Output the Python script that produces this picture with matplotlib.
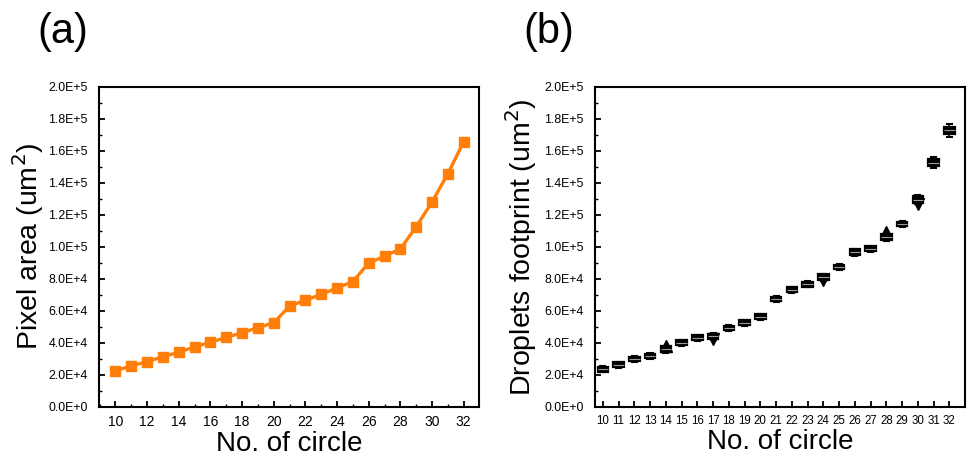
import matplotlib
matplotlib.use("Agg")
import matplotlib.pyplot as plt
from matplotlib.ticker import MultipleLocator

plt.rcParams['font.family'] = ['Liberation Sans', 'DejaVu Sans']

circles = list(range(10, 33))
pixel_area = [22.5e3, 25.7e3, 28.2e3, 31.4e3, 34.1e3, 37.5e3, 40.4e3, 43.4e3, 46.3e3,
              49.5e3, 52.6e3, 62.9e3, 66.7e3, 70.3e3, 74.3e3, 78.3e3, 89.9e3, 94.1e3,
              98.7e3, 112.6e3, 128.0e3, 145.7e3, 165.7e3]

fp_med = [23.6e3, 26.3e3, 29.9e3, 31.8e3, 36.0e3, 40.0e3, 43.2e3, 44.0e3, 49.3e3,
          52.6e3, 56.4e3, 67.4e3, 73.3e3, 76.6e3, 81.0e3, 87.4e3, 96.6e3, 98.9e3,
          106.0e3, 114.3e3, 129.5e3, 152.6e3, 172.8e3]
fp_half = [1.5e3, 1.5e3, 1.5e3, 1.5e3, 1.8e3, 1.5e3, 1.5e3, 1.8e3, 1.5e3,
           1.5e3, 1.5e3, 1.5e3, 1.5e3, 1.5e3, 1.8e3, 1.5e3, 1.8e3, 1.5e3,
           1.8e3, 1.5e3, 2.0e3, 2.2e3, 2.2e3]
fp_whisk = [1.9e3, 1.9e3, 1.9e3, 1.9e3, 2.3e3, 1.9e3, 1.9e3, 2.3e3, 1.9e3,
            1.9e3, 1.9e3, 1.9e3, 1.9e3, 1.9e3, 2.3e3, 1.9e3, 2.3e3, 1.9e3,
            2.3e3, 1.9e3, 2.8e3, 3.5e3, 4.0e3]
up_markers_x = [14, 28]
up_markers_y = [37.8e3, 109.5e3]
down_markers_x = [17, 24, 30]
down_markers_y = [42.3e3, 79.3e3, 127.0e3]

yticks = [i * 2e4 for i in range(11)]
ytick_labels = ['0.0E+0', '2.0E+4', '4.0E+4', '6.0E+4', '8.0E+4', '1.0E+5',
                '1.2E+5', '1.4E+5', '1.6E+5', '1.8E+5', '2.0E+5']

fig = plt.figure(figsize=(9.69, 4.72), dpi=100)
ax1 = fig.add_axes([0.102, 0.138, 0.392, 0.678])
ax2 = fig.add_axes([0.614, 0.138, 0.382, 0.678])

ax1.plot(circles, pixel_area, color='#FF7F0A', lw=2.4, marker='s', ms=7.5, zorder=3)
ax1.set_xlim(8.95, 32.95)
ax1.xaxis.set_major_locator(MultipleLocator(2))
ax1.xaxis.set_minor_locator(MultipleLocator(1))

stats = []
for x, m, h, w in zip(circles, fp_med, fp_half, fp_whisk):
    stats.append(dict(med=m, q1=m - h, q3=m + h, whislo=m - w, whishi=m + w, fliers=[]))
ax2.bxp(stats, positions=circles, widths=0.66, patch_artist=True, showfliers=False,
        boxprops=dict(facecolor='black', edgecolor='black', lw=1.6),
        medianprops=dict(color='#9a9a9a', lw=0.8),
        whiskerprops=dict(color='black', lw=1.2),
        capprops=dict(color='black', lw=1.5), manage_ticks=False)
ax2.plot(up_markers_x, up_markers_y, linestyle='none', marker='^', color='black', ms=8)
ax2.plot(down_markers_x, down_markers_y, linestyle='none', marker='v', color='black', ms=8)
ax2.set_xlim(9.5, 33.0)
ax2.set_xticks(circles)
ax2.set_xticklabels([str(c) for c in circles])

for ax, lab in [(ax1, 'Pixel area (um$^2$)'), (ax2, 'Droplets footprint (um$^2$)')]:
    ax.set_ylim(0, 2e5)
    ax.set_yticks(yticks)
    ax.set_yticklabels(ytick_labels)
    ax.yaxis.set_minor_locator(MultipleLocator(1e4))
    ax.tick_params(direction='in', which='major', length=4.5, width=1.3)
    ax.tick_params(direction='in', which='minor', length=2.5, width=1)
    ax.tick_params(axis='y', which='major', pad=8, labelsize=8.9)
    ax.tick_params(axis='x', which='major', pad=6)
    for s in ax.spines.values():
        s.set_linewidth(1.5)
    ax.set_xlabel('No. of circle', fontsize=20, labelpad=1)
    ax.set_ylabel(lab, fontsize=20.5)

ax1.yaxis.set_label_coords(-0.14, 0.5)
ax2.yaxis.set_label_coords(-0.152, 0.5)

ax1.tick_params(axis='x', which='major', labelsize=10)
ax2.tick_params(axis='x', which='major', labelsize=8.3)
ax2.xaxis.set_minor_locator(plt.NullLocator())

fig.text(0.039, 0.975, '(a)', fontsize=30, va='top')
fig.text(0.540, 0.975, '(b)', fontsize=30, va='top')

fig.savefig('out.png', dpi=100)
